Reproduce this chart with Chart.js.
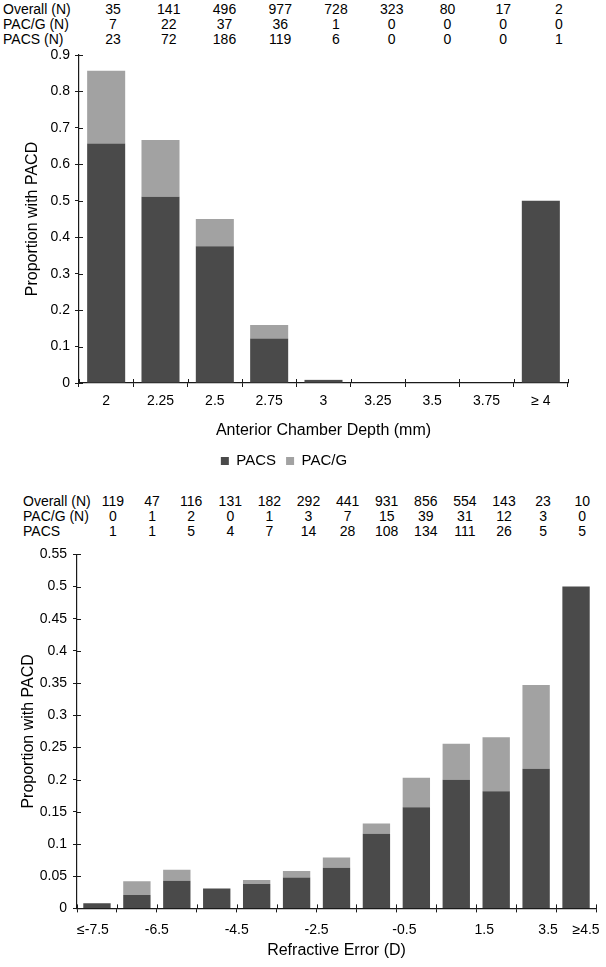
<!DOCTYPE html>
<html>
<head>
<meta charset="utf-8">
<script src="https://cdn.jsdelivr.net/npm/chart.js@4.4.1/dist/chart.umd.min.js"></script>
<style>
  body { margin: 0; background: #fff; }
  #page { position: relative; width: 606px; height: 967px; overflow: hidden;
          font-family: "Liberation Sans", Arial, sans-serif; color: #000; }
  .tbl { position: absolute; left: 0; width: 606px; font-size: 14px; line-height: 15px; }
  .row { position: relative; height: 15px; white-space: nowrap; }
  .row span { position: absolute; top: 0; }
  .box { position: absolute; left: 0; width: 606px; }
</style>
</head>
<body>
<div id="page">
  <div class="tbl" id="acdTable" style="top:1.5px"></div>
  <div class="box" style="top:40px;height:440px"><canvas id="acdChart"></canvas></div>
  <div class="tbl" id="reTable" style="top:494px"></div>
  <div class="box" style="top:540px;height:427px"><canvas id="reChart"></canvas></div>
</div>
<script>
// Anterior chamber depth (top panel)
const acdCategories = ["2", "2.25", "2.5", "2.75", "3", "3.25", "3.5", "3.75", "≥ 4"];
const acdOverallN = [35, 141, 496, 977, 728, 323, 80, 17, 2];
const acdPacgN = [7, 22, 37, 36, 1, 0, 0, 0, 0];
const acdPacsN = [23, 72, 186, 119, 6, 0, 0, 0, 1];
const acdPacs = [0.657, 0.511, 0.375, 0.122, 0.008, 0, 0, 0, 0.5];
const acdPacg = [0.2, 0.156, 0.075, 0.037, 0.001, 0, 0, 0, 0];

// Refractive error (bottom panel)
const reCategories = ["≤-7.5", "-7", "-6", "-5", "-4", "-3", "-2", "-1", "0", "1", "2", "3", "≥4.5"];
const reOverallN = [119, 47, 116, 131, 182, 292, 441, 931, 856, 554, 143, 23, 10];
const rePacgN = [0, 1, 2, 0, 1, 3, 7, 15, 39, 31, 12, 3, 0];
const rePacsN = [1, 1, 5, 4, 7, 14, 28, 108, 134, 111, 26, 5, 5];
const rePacs = [0.008, 0.021, 0.043, 0.031, 0.038, 0.048, 0.063, 0.116, 0.157, 0.2, 0.182, 0.217, 0.5];
const rePacg = [0, 0.021, 0.017, 0, 0.006, 0.01, 0.016, 0.016, 0.046, 0.056, 0.084, 0.13, 0];
const reTickLabels = ["≤-7.5", "-6.5", "-4.5", "-2.5", "-0.5", "1.5", "3.5", "≥4.5"];
const reTickAt = [0.4, 2, 4, 6, 8.2, 10.2, 11.8, 12.75]; // in bar units along the axis

const DARK = "#4a4a4a";
const LIGHT = "#a2a2a2";
const AXIS = "#1a1a1a";
const TXT = "#000";

Chart.defaults.font.family = '"Liberation Sans", Arial, sans-serif';
Chart.defaults.color = TXT;

// Counts table above each panel
function buildTable(el, rows, labelLeft, firstCenter, step) {
  rows.forEach(([label, vals]) => {
    const row = document.createElement("div");
    row.className = "row";
    const lab = document.createElement("span");
    lab.textContent = label;
    lab.style.left = labelLeft + "px";
    row.appendChild(lab);
    vals.forEach((v, i) => {
      const s = document.createElement("span");
      s.textContent = v;
      s.style.left = (firstCenter + i * step - 20) + "px";
      s.style.width = "40px";
      s.style.textAlign = "center";
      row.appendChild(s);
    });
    el.appendChild(row);
  });
}

buildTable(document.getElementById("acdTable"),
  [["Overall (N)", acdOverallN], ["PAC/G (N)", acdPacgN], ["PACS (N)", acdPacsN]], 3, 113, 55.75);
buildTable(document.getElementById("reTable"),
  [["Overall (N)", reOverallN], ["PAC/G (N)", rePacgN], ["PACS", rePacsN]], 23, 113, 39.1);

function barSets(pacs, pacg, pct) {
  return [
    { label: "PACS", data: pacs, backgroundColor: DARK, barPercentage: pct, categoryPercentage: 1 },
    { label: "PAC/G", data: pacg, backgroundColor: LIGHT, barPercentage: pct, categoryPercentage: 1 },
  ];
}

// tick marks in the original cross the axis line, so add the inner half
const crossTicks = {
  id: "crossTicks",
  afterDatasetsDraw(chart) {
    const { ctx, chartArea: a, scales } = chart;
    ctx.save();
    ctx.strokeStyle = AXIS;
    ctx.lineWidth = 1;
    ctx.beginPath();
    scales.y.ticks.forEach((t, i) => {
      const y = Math.round(scales.y.getPixelForTick(i)) + 0.5;
      ctx.moveTo(a.left, y);
      ctx.lineTo(a.left + 4, y);
    });
    const n = scales.x.ticks.length;
    for (let k = 0; k <= n; k++) {
      const x = Math.round(a.left + (k * (a.right - a.left)) / n) + 0.5;
      ctx.moveTo(x, a.bottom);
      ctx.lineTo(x, a.bottom - 4);
    }
    ctx.stroke();
    ctx.restore();
  },
};

const tickFont = { size: 14 };
const titleFont = { size: 16 };
const plainNum = (v) => String(+Number(v).toFixed(2));

new Chart(document.getElementById("acdChart"), {
  type: "bar",
  data: { labels: acdCategories, datasets: barSets(acdPacs, acdPacg, 0.7) },
  plugins: [crossTicks],
  options: {
    responsive: true,
    maintainAspectRatio: false,
    animation: false,
    layout: { padding: { top: 15, right: 38, bottom: 1.5, left: 0 } },
    plugins: {
      legend: {
        position: "bottom",
        labels: { boxWidth: 8, boxHeight: 8, font: { size: 15 }, color: TXT, padding: 10 },
      },
      tooltip: { enabled: false },
    },
    scales: {
      x: {
        stacked: true,
        grid: { drawOnChartArea: false, tickLength: 4, color: AXIS },
        border: { color: AXIS, width: 1.2 },
        ticks: { font: tickFont, color: TXT, padding: 6, maxRotation: 0, autoSkip: false },
        title: { display: true, text: "Anterior Chamber Depth (mm)", font: titleFont, color: TXT,
                 padding: { top: 5.6, bottom: 2.9 } },
      },
      y: {
        stacked: true,
        min: 0,
        max: 0.9,
        ticks: { stepSize: 0.1, font: tickFont, color: TXT, padding: 5, callback: plainNum },
        grid: { drawOnChartArea: false, tickLength: 4, color: AXIS },
        border: { color: AXIS, width: 1.2 },
        title: { display: true, text: "Proportion with PACD", font: titleFont, color: TXT,
                 padding: { top: 23.4, bottom: 0 } },
        afterFit: (s) => { s.width = 79; },
      },
    },
  },
});

new Chart(document.getElementById("reChart"), {
  type: "bar",
  data: { labels: reCategories, datasets: barSets(rePacs, rePacg, 0.685) },
  plugins: [crossTicks],
  options: {
    responsive: true,
    maintainAspectRatio: false,
    animation: false,
    layout: { padding: { top: 9, right: 10, bottom: 0, left: 0 } },
    plugins: { legend: { display: false }, tooltip: { enabled: false } },
    scales: {
      x: {
        stacked: true,
        weight: 0,
        grid: { drawOnChartArea: false, tickLength: 4, color: AXIS },
        border: { color: AXIS, width: 1.2 },
        ticks: { display: false },
      },
      xLab: {
        type: "linear",
        position: "bottom",
        weight: 1,
        offset: false,
        min: 0,
        max: reCategories.length,
        grid: { display: false, drawTicks: false, offset: false },
        border: { display: false },
        ticks: {
          font: tickFont, color: TXT, padding: 9.6, autoSkip: false, maxRotation: 0,
          callback: (v, i) => reTickLabels[i],
        },
        afterBuildTicks: (s) => { s.ticks = reTickAt.map((v) => ({ value: v })); },
        afterFit: (s) => { s.paddingLeft = 0; s.paddingRight = 0; },
        title: { display: true, text: "Refractive Error (D)", font: titleFont, color: TXT,
                 padding: { top: -7, bottom: 6.4 } },
      },
      y: {
        stacked: true,
        min: 0,
        max: 0.55,
        ticks: { stepSize: 0.05, font: tickFont, color: TXT, padding: 6, callback: plainNum },
        grid: { drawOnChartArea: false, tickLength: 4, color: AXIS },
        border: { color: AXIS, width: 1.2 },
        title: { display: true, text: "Proportion with PACD", font: titleFont, color: TXT,
                 padding: { top: 19.4, bottom: 0 } },
        afterFit: (s) => { s.width = 77; },
      },
    },
  },
});
</script>
</body>
</html>
